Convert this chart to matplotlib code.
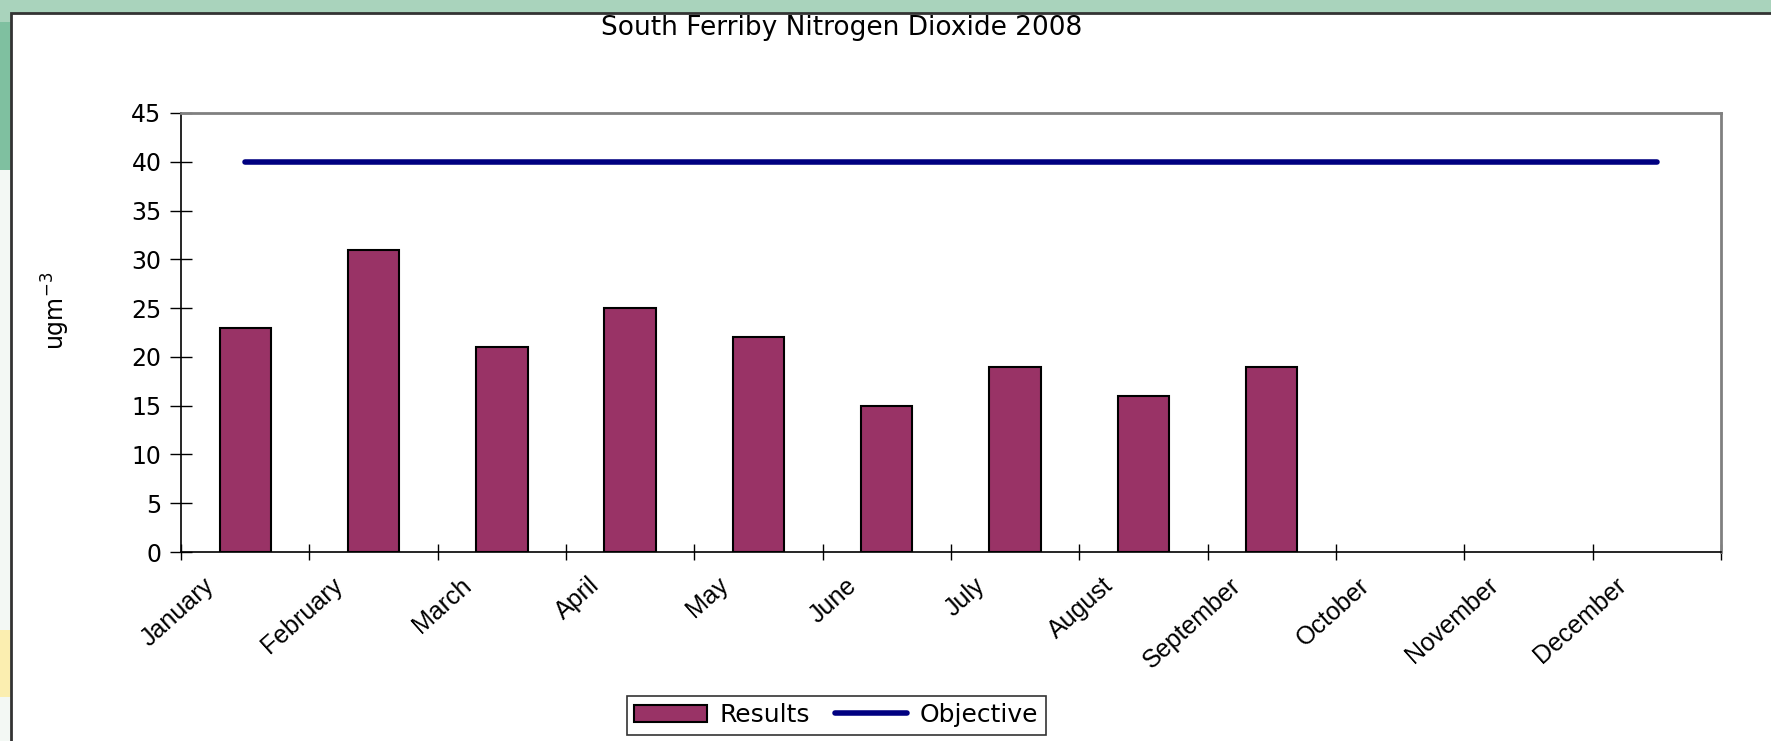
import matplotlib
matplotlib.use("Agg")
import matplotlib.pyplot as plt
import matplotlib.patches as mpatches
import matplotlib.transforms as mtrans
import numpy as np

months = ["January", "February", "March", "April", "May", "June", "July",
          "August", "September", "October", "November", "December"]
results = [23, 31, 21, 25, 22, 15, 19, 16, 19]   # Jan - Sep measured
objective = [40] * 12
yticks = [0, 5, 10, 15, 20, 25, 30, 35, 40, 45]

plt.rcParams['font.family'] = ['DejaVu Sans']

fig = plt.figure(figsize=(17.71, 7.41), dpi=100)
fig.patch.set_facecolor('#f3f8f4')

# slide background bits round the chart
fig.patches.append(mpatches.Rectangle((0, 0.95), 1, 0.05, transform=fig.transFigure,
                                      facecolor='#a9d3bc', edgecolor='none', zorder=-3))
fig.patches.append(mpatches.Rectangle((0, 0.77), 0.006, 0.2, transform=fig.transFigure,
                                      facecolor='#7fc0a0', edgecolor='none', zorder=-3))
fig.patches.append(mpatches.Rectangle((0, 0.06), 0.006, 0.09, transform=fig.transFigure,
                                      facecolor='#fbeeb0', edgecolor='none', zorder=-3))
# white chart panel with dark border
fig.patches.append(mpatches.Rectangle((11 / 1771, -0.05), 1.0, 1 - 13 / 741 + 0.05,
                                      transform=fig.transFigure, facecolor='white',
                                      edgecolor='#333333', linewidth=2, zorder=-2))

ax = fig.add_axes([181 / 1771, 1 - 552 / 741, 1540 / 1771, 439 / 741])
ax.set_facecolor('white')

x = np.arange(len(months))
bars = ax.bar(x[:len(results)], results, width=0.4, color='#993366', edgecolor='black',
              linewidth=1.5, label='Results', zorder=2)
line, = ax.plot(x, objective, color='#000080', linewidth=4, solid_capstyle='round',
                label='Objective', zorder=3)

ax.set_xlim(-0.5, 11.5)
ax.set_ylim(0, 45)
ax.set_yticks(yticks)
ax.tick_params(axis='y', direction='inout', length=16, width=1, labelsize=17, pad=6)

ax.set_xticks(x)
ax.set_xticks(np.arange(-0.5, 12, 1), minor=True)
ax.tick_params(axis='x', which='major', length=0, pad=8)
ax.tick_params(axis='x', which='minor', direction='inout', length=11, width=1)
ax.set_xticklabels(months, rotation=42, ha='right', va='top', rotation_mode='anchor',
                   fontsize=18, family=['Liberation Sans Narrow', 'Liberation Sans'])
off = mtrans.ScaledTranslation(-0.42, -0.10, fig.dpi_scale_trans)
for lab in ax.get_xticklabels():
    lab.set_transform(lab.get_transform() + off)

for s in ['top', 'right']:
    ax.spines[s].set_color('#808080')
    ax.spines[s].set_linewidth(2)
for s in ['left', 'bottom']:
    ax.spines[s].set_color('black')
    ax.spines[s].set_linewidth(1.2)

ax.set_ylabel('ugm$^{-3}$', fontsize=17)
ax.yaxis.set_label_coords(-0.071, 0.55)

fig.text(0.475, 1 - 28 / 741, 'South Ferriby Nitrogen Dioxide 2008', ha='center',
         va='center', fontsize=19)

leg = fig.legend([bars, line], ['Results', 'Objective'], loc='center',
                 bbox_to_anchor=(836 / 1771, 1 - 715 / 741), ncol=2,
                 fontsize=18, frameon=True, fancybox=False, edgecolor='black',
                 handlelength=2.9, handleheight=0.7, columnspacing=1.0,
                 handletextpad=0.5, borderpad=0.3, borderaxespad=0.5)
leg.get_frame().set_linewidth(1.2)

fig.savefig('out.png', dpi=100, facecolor=fig.get_facecolor())
